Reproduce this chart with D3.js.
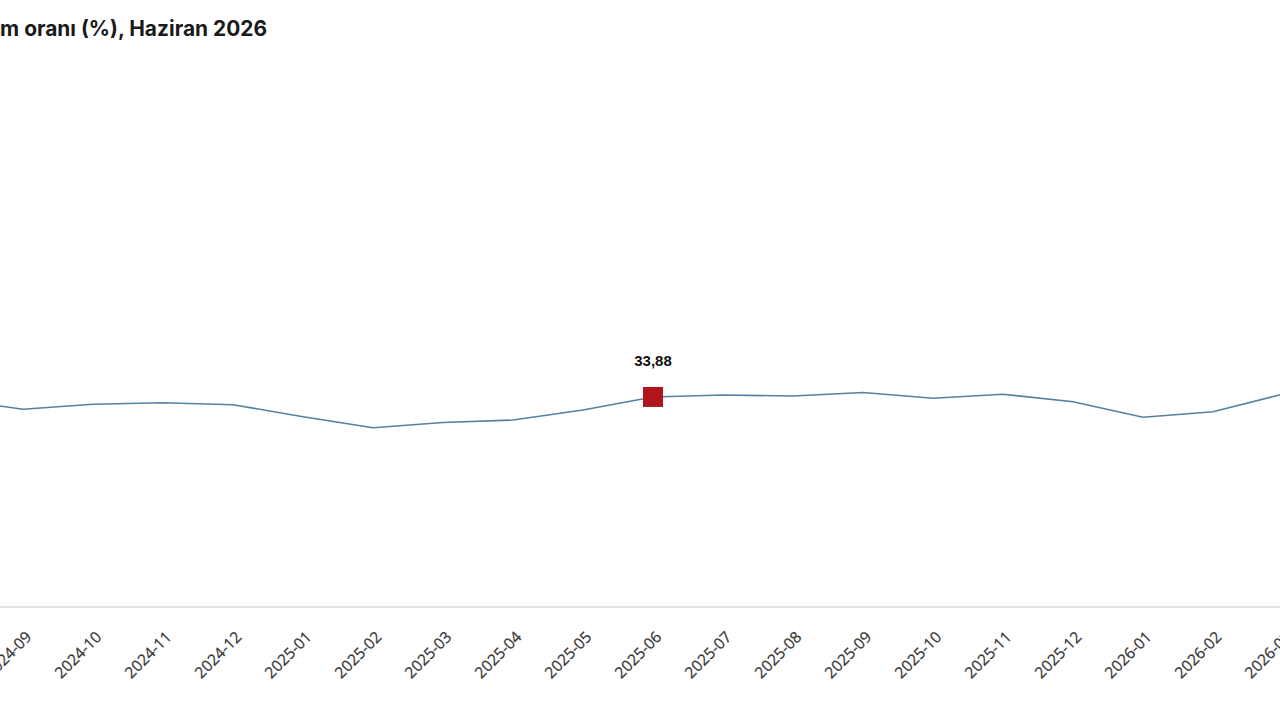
<!DOCTYPE html>
<html><head><meta charset="utf-8">
<script src="https://cdn.jsdelivr.net/npm/d3@7"></script>
<style>
html,body{margin:0;padding:0;background:#fff;overflow:hidden;}
svg{display:block;}
</style></head>
<body>
<svg id="chart" width="1280" height="720"></svg>
<script>
const months = ["2024-08","2024-09","2024-10","2024-11","2024-12","2025-01","2025-02","2025-03","2025-04","2025-05","2025-06","2025-07","2025-08","2025-09","2025-10","2025-11","2025-12","2026-01","2026-02","2026-03"];
const values = [33.5,31.89,32.69,32.95,32.63,30.69,28.92,29.76,30.16,31.77,33.88,34.19,34.03,34.60,33.66,34.31,33.11,30.60,31.50,34.35];
const highlightMonth = "2025-06";
const highlightLabel = "33,88";
const titleText = "İstihdam oranı (%), Haziran 2026";
const titleVisible = "m oranı (%), Haziran 2026";

const svg = d3.select("#chart");
const baseY = 607;
const x = d3.scalePoint().domain(months).range([-47, 1283]);
const y = d3.scaleLinear().domain([0, 60]).range([baseY, 235]);

// title (left part clipped by the viewport), sized so visible part spans ~267px
const titleFont = "Inter, 'Noto Sans', sans-serif";
const probe = svg.append("text")
  .style("font-family", titleFont).style("font-weight", 700).style("font-size", "20px")
  .text(titleVisible);
const w = probe.node().getComputedTextLength();
probe.remove();
const tSize = Math.max(18, Math.min(22, 20 * 267 / w));
svg.append("text")
  .attr("x", 267).attr("y", 36)
  .attr("text-anchor", "end")
  .style("font-family", titleFont)
  .style("font-weight", 700).style("font-size", tSize + "px")
  .attr("fill", "#1a1a1a")
  .text(titleText);

// baseline axis
svg.append("line")
  .attr("x1", -100).attr("x2", 1400)
  .attr("y1", baseY).attr("y2", baseY)
  .attr("stroke", "#e3e3e3").attr("stroke-width", 2);

// x labels
const xAxis = d3.axisBottom(x).tickSize(0).tickPadding(0);
const gx = svg.append("g").attr("transform", `translate(0,${baseY})`).call(xAxis);
gx.select(".domain").remove();
gx.selectAll(".tick text")
  .style("font-family", "'Open Sans', sans-serif")
  .style("font-size", "15.5px")
  .attr("fill", "#383838")
  .attr("stroke", "#383838").attr("stroke-width", 0.25)
  .attr("text-anchor", "end")
  .attr("dy", 0).attr("y", 0)
  .attr("transform", "translate(9,31) rotate(-45)");

// line
const line = d3.line().x((d, i) => x(months[i])).y(d => y(d));
svg.append("path")
  .datum(values)
  .attr("fill", "none")
  .attr("stroke", "#55809e")
  .attr("stroke-width", 1.6)
  .attr("d", line);

// highlight marker
const hi = months.indexOf(highlightMonth);
const hx = x(highlightMonth), hy = y(values[hi]);
svg.append("rect")
  .attr("x", hx - 10).attr("y", hy - 10)
  .attr("width", 20).attr("height", 20)
  .attr("fill", "#b0151c");
svg.append("text")
  .attr("x", hx).attr("y", hy - 31)
  .attr("text-anchor", "middle")
  .style("font-family", "'Liberation Sans', Arial, sans-serif")
  .style("font-weight", 700).style("font-size", "15px")
  .attr("fill", "#111")
  .text(highlightLabel);
</script>
</body></html>
